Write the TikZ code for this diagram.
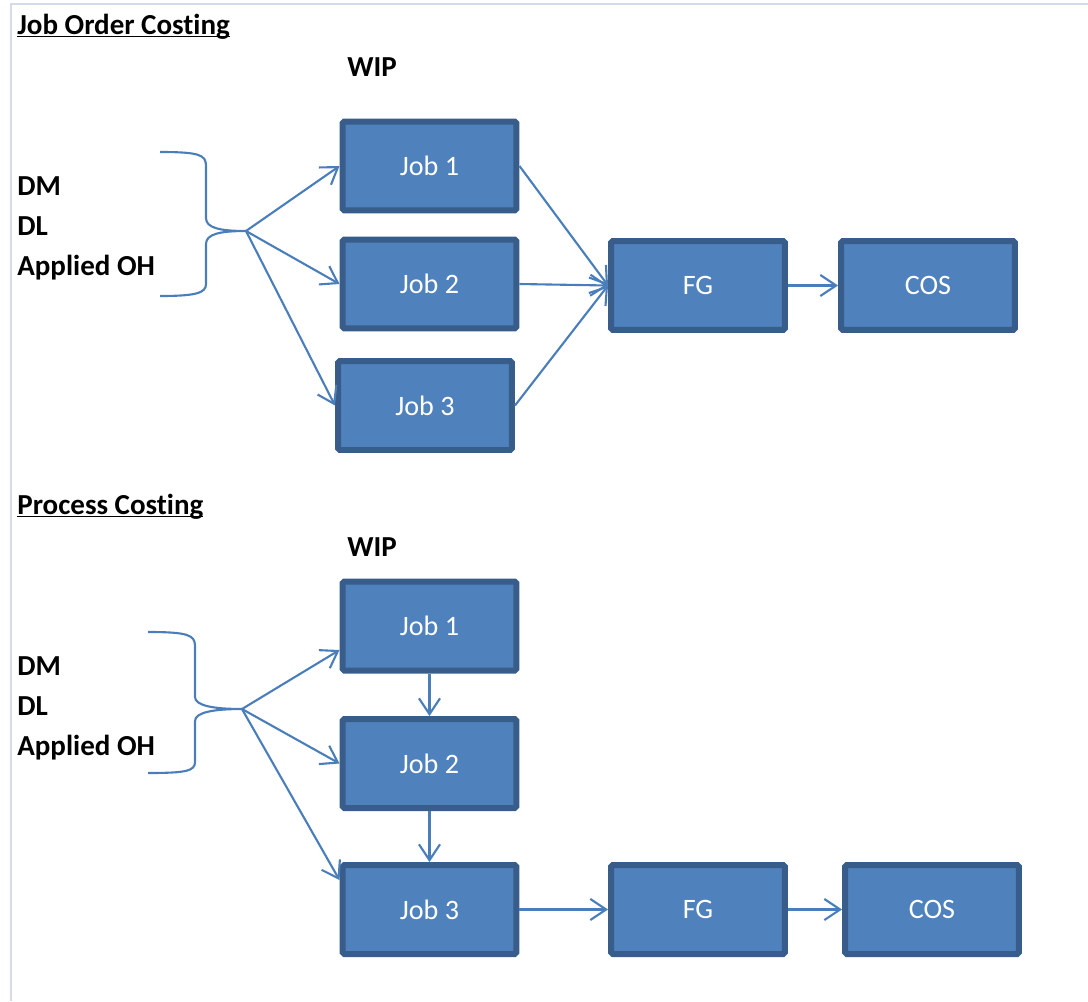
\documentclass[tikz,border=0pt]{standalone}
\usepackage{fontspec}
\setmainfont[Ligatures=NoCommon]{Carlito}
\usepackage{xcolor}
\usetikzlibrary{arrows.meta}
\definecolor{boxfill}{HTML}{4F81BD}
\definecolor{boxline}{HTML}{385D8A}
\definecolor{flowblue}{HTML}{4A7EBB}
\definecolor{pageline}{HTML}{D5DCE8}

\begin{document}
\begin{tikzpicture}[x=0.02cm,y=-0.02cm,
    costbox/.style={rectangle,draw=boxline,fill=boxfill,line width=0.12cm,rounded corners=1pt,
      minimum width=3.48cm,minimum height=1.78cm,text=white,font=\fontsize{16}{19}\selectfont},
    heading/.style={font=\bfseries\fontsize{16.5}{20}\selectfont,inner sep=0pt,anchor=base west},
    flow/.style={draw=flowblue,line width=1.2pt,-{Straight Barb[length=9pt,width=12pt]}},
    curly/.style={draw=flowblue,line width=1.2pt}]
                \useasboundingbox (0,0) rectangle (1088,1001);
                \draw[pageline,line width=1.5pt] (11,1001) -- (11,4) -- (1088,4);

                % job order costing
                \node[heading] (jobhead) at (17,34) {\underline{\smash{Job Order Costing}}};
                \node[heading] (wipA) at (347,76) {WIP};
                \node[heading] (dmA) at (17,195) {DM};
                \node[heading] (dlA) at (17,235) {DL};
                \node[heading] (ohA) at (17,275) {Applied OH};
                \draw[curly] (160,152) .. controls (200,152) and (206,155) .. (206,166) -- (206,218)
                  .. controls (206,228) and (220,231) .. (246,231)
                  .. controls (220,231) and (206,234) .. (206,244) -- (206,284)
                  .. controls (206,293) and (196,296) .. (160,296);
                \coordinate (tipA) at (246,231);
                \node[costbox] (jobA1) at (429.5,166) {Job 1};
                \node[costbox] (jobA2) at (429.5,284) {Job 2};
                \node[costbox] (jobA3) at (425,405.5) {Job 3};
                \node[costbox] (fgA) at (698,285.5) {FG};
                \node[costbox] (cosA) at (928,285.5) {COS};
                \draw[flow] (tipA) -- (jobA1.west);
                \draw[flow] (tipA) -- (jobA2.west);
                \draw[flow] (tipA) -- (jobA3.west);
                \draw[flow] (jobA1.east) -- (fgA.west);
                \draw[flow] (jobA2.east) -- (fgA.west);
                \draw[flow] (jobA3.east) -- (fgA.west);
                \draw[flow] (fgA) -- (cosA);

                % process costing
                \node[heading] (prochead) at (17,514) {\underline{\smash{Process Costing}}};
                \node[heading] (wipB) at (347,556) {WIP};
                \node[heading] (dmB) at (17,675) {DM};
                \node[heading] (dlB) at (17,715) {DL};
                \node[heading] (ohB) at (17,755) {Applied OH};
                \draw[curly] (148,632) .. controls (188,632) and (195,635) .. (195,646) -- (195,697)
                  .. controls (195,706) and (215,709) .. (242,709)
                  .. controls (215,709) and (195,712) .. (195,721) -- (195,762)
                  .. controls (195,771) and (186,773) .. (148,773);
                \coordinate (tipB) at (242,709);
                \node[costbox] (jobB1) at (429.5,626) {Job 1};
                \node[costbox] (jobB2) at (429.5,763.5) {Job 2};
                \node[costbox] (jobB3) at (429.5,909.5) {Job 3};
                \node[costbox] (fgB) at (698,909.5) {FG};
                \node[costbox] (cosB) at (932,909.5) {COS};
                \draw[flow] (tipB) -- ([yshift=-0.48cm]jobB1.west);
                \draw[flow] (tipB) -- (jobB2.west);
                \draw[flow] (tipB) -- ([yshift=0.59cm]jobB3.west);
                \draw[flow] (jobB1) -- (jobB2);
                \draw[flow] (jobB2) -- (jobB3);
                \draw[flow] (jobB3) -- (fgB);
                \draw[flow] (fgB) -- (cosB);
\end{tikzpicture}
\end{document}
